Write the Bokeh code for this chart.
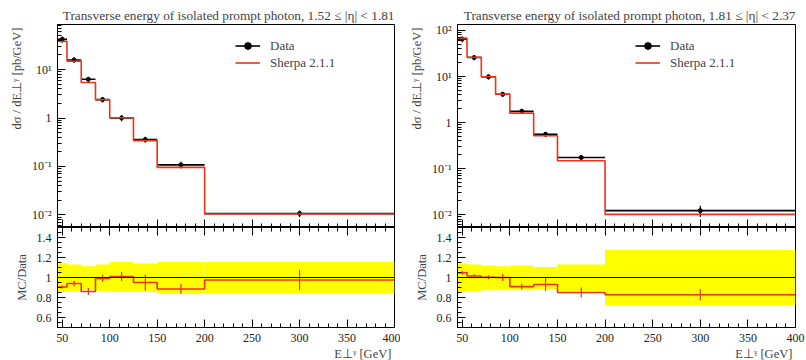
from bokeh.plotting import figure
from bokeh.models import (FixedTicker, Title, Legend, LegendItem, Span, LinearAxis, Range1d)
from bokeh.layouts import row, column
from bokeh.embed import file_html
from bokeh.resources import INLINE

FONT = "Liberation Serif"
FS = "12.5px"

# ---- data ----
edges = [45, 55, 70, 85, 100, 125, 150, 200, 400]
centers = [50, 62.5, 77.5, 92.5, 112.5, 137.5, 175, 300]

title_a = "Transverse energy of isolated prompt photon, 1.52 ≤ |η| < 1.81"
data_a = [42.0, 15.8, 6.3, 2.4, 1.0, 0.36, 0.108, 0.0107]
mc_a = [38.0, 14.85, 5.42, 2.38, 1.01, 0.342, 0.0956, 0.01043]
band_up_a = [1.143, 1.13, 1.113, 1.13, 1.156, 1.14, 1.156, 1.156]
band_dn_a = [0.856, 0.866, 0.876, 0.866, 0.856, 0.856, 0.84, 0.84]
mc_err_a = [0.015, 0.028, 0.035, 0.035, 0.045, 0.08, 0.05, 0.1]

title_b = "Transverse energy of isolated prompt photon, 1.81 ≤ |η| < 2.37"
data_b = [65.0, 25.9, 9.85, 4.12, 1.76, 0.557, 0.174, 0.0122]
mc_b = [68.1, 26.3, 9.88, 4.12, 1.60, 0.518, 0.148, 0.0101]
band_up_b = [1.14, 1.13, 1.12, 1.113, 1.12, 1.106, 1.13, 1.276]
band_dn_b = [0.856, 0.866, 0.873, 0.873, 0.873, 0.883, 0.863, 0.723]
mc_err_b = [0.02, 0.017, 0.02, 0.035, 0.03, 0.065, 0.05, 0.055]

x_ticks = [50, 100, 150, 200, 250, 300, 350, 400]
x_minor = list(range(50, 401, 10))
ratio_ticks = [0.6, 0.8, 1.0, 1.2, 1.4]
ratio_minor = [round(0.5 + 0.05 * i, 2) for i in range(21)]
log_labels = {0.01: "10⁻²", 0.1: "10⁻¹", 1: "1", 10: "10¹", 100: "10²"}

RED = "#ee3318"


def style_axis(ax, labels=True):
    ax.major_tick_in = 8
    ax.major_tick_out = 0
    ax.minor_tick_in = 4
    ax.minor_tick_out = 0
    ax.axis_line_color = "black"
    ax.major_tick_line_color = "black"
    ax.minor_tick_line_color = "black"
    ax.major_label_text_font = FONT
    ax.major_label_text_font_size = "12px"
    ax.major_label_text_color = "#222222"
    if labels:
        ax.major_label_standoff = 6
    else:
        ax.major_label_standoff = 0
        ax.major_label_text_font_size = "1px"
        ax.major_label_overrides = {t: "" for t in x_ticks}


def make_panel(title, data, mc, up, dn, mcerr, ylo, yhi, yticks, width, right_border):
    p = figure(width=width, height=227, x_range=Range1d(45, 400), y_range=Range1d(ylo, yhi),
               y_axis_type="log", output_backend="svg", toolbar_location=None,
               min_border_left=57, min_border_right=right_border, min_border_top=24,
               min_border_bottom=0)
    p.grid.visible = False
    p.outline_line_color = "black"
    p.background_fill_color = "white"
    p.title.text = title
    p.title.align = "right"
    p.title.text_font = FONT
    p.title.text_font_size = "13.3px"
    p.title.text_font_style = "normal"
    p.title.standoff = 4
    p.xaxis.ticker = FixedTicker(ticks=x_ticks, minor_ticks=x_minor)
    style_axis(p.xaxis[0], labels=False)
    minor = [m * 10.0 ** k for k in range(-3, 3) for m in range(2, 10)]
    p.yaxis.ticker = FixedTicker(ticks=yticks, minor_ticks=minor)
    style_axis(p.yaxis[0])
    p.yaxis.major_label_overrides = {t: log_labels[t] for t in yticks}
    p.add_layout(Title(text="dσ / dE⊥ᵞ  [pb/GeV]", align="right", text_font=FONT,
                       text_font_size=FS, text_font_style="normal"), "left")

    lo = edges[:-1]
    hi = edges[1:]
    err_lo = [d * u_d for d, u_d in zip(data, dn)]
    err_hi = [d * u for d, u in zip(data, up)]
    seg = p.segment(x0=lo, y0=data, x1=hi, y1=data, line_color="black", line_width=1.6)
    p.segment(x0=centers, y0=err_lo, x1=centers, y1=err_hi, line_color="black", line_width=1.2)
    dots = p.scatter(centers, data, size=4, color="black")
    mcr = p.step(edges, mc + [mc[-1]], mode="after", line_color=RED, line_width=1.6)

    leg = Legend(items=[LegendItem(label="Data", renderers=[seg, dots]),
                        LegendItem(label="Sherpa 2.1.1", renderers=[mcr])],
                 location=(178, 156), glyph_width=25, glyph_height=17, label_height=17,
                 padding=0, margin=0, spacing=0, border_line_alpha=0,
                 background_fill_alpha=0, label_text_font=FONT, label_text_font_size="13px",
                 label_standoff=10)
    p.add_layout(leg)

    r = figure(width=width, height=133, x_range=p.x_range, y_range=Range1d(0.5, 1.5),
               output_backend="svg", toolbar_location=None,
               min_border_left=57, min_border_right=right_border, min_border_top=0,
               min_border_bottom=30)
    r.grid.visible = False
    r.outline_line_color = "black"
    r.xaxis.ticker = FixedTicker(ticks=x_ticks, minor_ticks=x_minor)
    style_axis(r.xaxis[0])
    top_ax = LinearAxis(ticker=FixedTicker(ticks=x_ticks, minor_ticks=x_minor))
    style_axis(top_ax, labels=False)
    r.add_layout(top_ax, "above")
    r.yaxis.ticker = FixedTicker(ticks=ratio_ticks, minor_ticks=ratio_minor)
    style_axis(r.yaxis[0])
    r.yaxis.major_label_overrides = {1.0: "1", 0.6: "0.6", 0.8: "0.8", 1.2: "1.2", 1.4: "1.4"}
    r.add_layout(Title(text="MC/Data", align="center", text_font=FONT,
                       text_font_size=FS, text_font_style="normal"), "left")
    r.add_layout(Title(text="E⊥ᵞ  [GeV]", align="right", text_font=FONT,
                       text_font_size=FS, text_font_style="normal", standoff=0), "below")

    r.quad(left=lo, right=hi, bottom=dn, top=up, fill_color="#ffff00", line_color=None)
    r.add_layout(Span(location=1.0, dimension="width", line_color="black", line_width=1.2))
    ratio = [m / d for m, d in zip(mc, data)]
    r.step(edges, ratio + [ratio[-1]], mode="after", line_color=RED, line_width=1.6)
    r.segment(x0=centers, y0=[q - e for q, e in zip(ratio, mcerr)], x1=centers,
              y1=[q + e for q, e in zip(ratio, mcerr)], line_color=RED, line_width=1.2)
    return column(p, r, spacing=0)


left = make_panel(title_a, data_a, mc_a, band_up_a, band_dn_a, mc_err_a,
                  10 ** -2.26, 10 ** 1.93, [0.01, 0.1, 1, 10], 400, 6)
right = make_panel(title_b, data_b, mc_b, band_up_b, band_dn_b, mc_err_b,
                   10 ** -2.28, 10 ** 2.13, [0.01, 0.1, 1, 10, 100], 406, 11)
layout = row(left, right, spacing=0)

open("out.html", "w").write(file_html(layout, INLINE))
